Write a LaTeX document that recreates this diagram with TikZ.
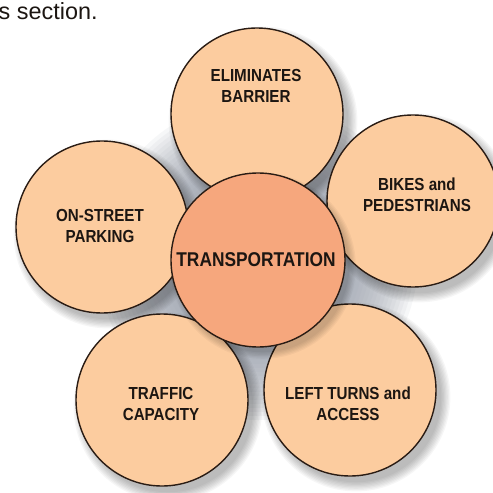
\documentclass[tikz,border=0pt]{standalone}
\usepackage{fontspec}
\setmainfont{Liberation Sans}
\newfontfamily\labfont[FakeStretch=0.87]{Liberation Sans}
\definecolor{peach}{HTML}{FCCC9F}
\definecolor{salmon}{HTML}{F6A77D}
\definecolor{rim}{HTML}{2A1C14}
\definecolor{ink}{HTML}{1C1612}
\definecolor{web}{HTML}{9DA3AF}
\begin{document}
\begin{tikzpicture}[x=1bp,y=-1bp,
  petal/.style={circle,draw=rim,line width=1.4bp,fill=peach,minimum size=172bp,inner sep=0pt},
  hub/.style={circle,draw=rim,line width=1.4bp,fill=salmon,minimum size=174bp,inner sep=0pt},
  lab/.style={font=\labfont\bfseries\fontsize{17.5}{21}\selectfont,text=ink,align=center,inner sep=0pt},
  hublab/.style={font=\labfont\bfseries\fontsize{20}{24}\selectfont,text=ink,align=center,inner sep=0pt}]
\useasboundingbox (0,0) rectangle (493,493);
\fill[white] (0,0) rectangle (493,493);
% header text
\node[anchor=base west,inner sep=0pt,font=\fontsize{23.5}{27}\selectfont,text=ink] (hdr) at (-1.5,20) {s section.};
% coordinates of circle centres
\coordinate (cT) at (257,114);
\coordinate (cR) at (413,201);
\coordinate (cBR) at (350,390);
\coordinate (cBL) at (162,400);
\coordinate (cL) at (102,227);
\coordinate (cC) at (258,260);
% gray glow behind the centre
\foreach \r in {160,156,...,92}{
  \fill[web,opacity=0.085] (cC) circle[radius=\r];
}
% shadows
\foreach \c in {cT,cR,cBR,cBL,cL}{
  \foreach \k in {1,...,8}{
    \fill[black,opacity=0.035] ([xshift=6bp,yshift=-7bp]\c) circle[radius=84+\k*1.3];
  }
}
% petals
\node[petal] (top) at (cT) {};
\node[petal] (right) at (cR) {};
\node[petal] (bright) at (cBR) {};
\node[petal] (bleft) at (cBL) {};
\node[petal] (left) at (cL) {};
% hub shadow and hub
\foreach \k in {1,...,6}{
  \fill[black,opacity=0.035] ([xshift=5bp,yshift=-6bp]cC) circle[radius=85+\k*1.3];
}
\node[hub] (hub) at (cC) {};
% labels
\node[lab] (tT) at (256,86) {ELIMINATES\\BARRIER};
\node[lab] (tR) at (417,195) {BIKES and\\PEDESTRIANS};
\node[lab] (tBR) at (348,404) {LEFT TURNS and\\ACCESS};
\node[lab] (tBL) at (161,404) {TRAFFIC\\CAPACITY};
\node[lab] (tL) at (100,226) {ON-STREET\\PARKING};
\node[hublab] (tC) at (256,260) {TRANSPORTATION};
\end{tikzpicture}
\end{document}
